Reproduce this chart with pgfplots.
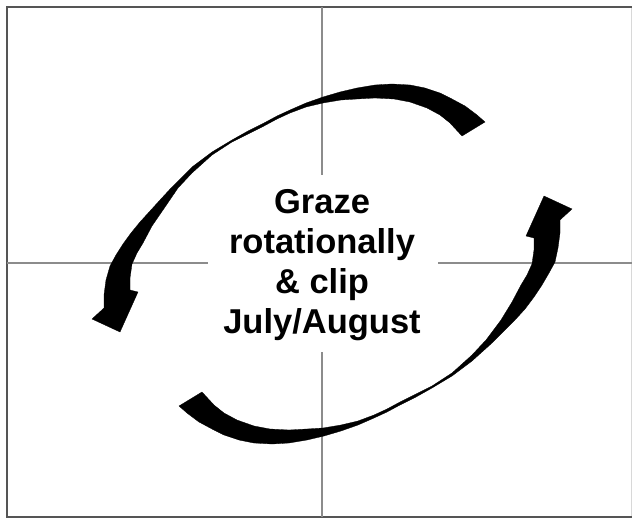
\documentclass[border=0pt]{standalone}
\usepackage{pgfplots}
\pgfplotsset{compat=1.18}
\usepackage{fontspec}
\setmainfont{Liberation Sans}
\definecolor{framegray}{HTML}{555555}
\definecolor{edgegray}{HTML}{D8D8D8}
\definecolor{crossgray}{HTML}{8C8C8C}
\begin{document}
\begin{tikzpicture}
  % picture laid out in pixel units (1px = 1pt), y runs downwards
  \begin{axis}[
    width=633pt, height=519pt,
    scale only axis,
    xmin=0, xmax=633,
    ymin=0, ymax=519,
    y dir=reverse,
    hide axis,
    clip=false,
  ]
    % keep the page the size of the picture
    \addplot[draw=none, mark=none] coordinates {(0,0) (633,519)};
    % frame (right edge is barely visible in the original)
    \addplot[edgegray, line width=1pt, mark=none] coordinates {(631.5,7) (631.5,517)};
    \addplot[framegray, line width=1.5pt, mark=none] coordinates {
      (631.5,7) (7,7) (7,517) (631.5,517)
    };
    % crosshair, broken round the text
    \addplot[crossgray, line width=1.3pt, mark=none] coordinates {(322,7) (322,175)};
    \addplot[crossgray, line width=1.3pt, mark=none] coordinates {(322,352) (322,517)};
    \addplot[crossgray, line width=1.3pt, mark=none] coordinates {(7,263) (208,263)};
    \addplot[crossgray, line width=1.3pt, mark=none] coordinates {(438,263) (631.5,263)};

    % upper arrow: blunt end top right, head bottom left
    \addplot[fill=black, draw=black, line width=0.3pt, mark=none] coordinates {
      (485,122) (477,115) (465,106) (452,99) (440,93) (425,88) (410,85)
      (392,84) (375,85) (357,88) (340,92) (323,97) (306,103) (290,110)
      (277,116) (264,123) (248,131) (232,140) (212,152) (192,167) (172,187)
      (160,200) (150,211) (140,222) (131,233) (123,244) (116,255) (110,266)
      (106,280) (104,295) (104,308)
      (92,319) (120,332) (138,292)
      (130,290) (130,278) (132,264) (137,253) (143,243) (152,226) (163,210)
      (178,188) (192,173) (212,155) (232,142) (248,134) (264,126) (277,119)
      (290,113) (306,107) (323,103) (341,100) (357,99) (375,98) (394,99)
      (410,102) (427,108) (440,115) (450,123) (462,136)
    } -- cycle;

    % lower arrow: blunt end bottom left, head top right
    \addplot[fill=black, draw=black, line width=0.3pt, mark=none] coordinates {
      (179,406) (187,413) (199,422) (212,429) (224,435) (239,440) (254,443)
      (272,444) (289,443) (307,440) (324,436) (341,431) (358,425) (374,418)
      (387,412) (400,405) (416,397) (432,388) (452,376) (472,361) (492,343)
      (504,331) (515,320) (525,309) (534,297) (542,285) (549,273) (555,262)
      (558,248) (560,233) (560,220)
      (572,209) (544,196) (526,236)
      (534,238) (534,250) (532,264) (527,275) (521,285) (512,302) (501,320)
      (486,340) (472,355) (452,373) (432,386) (416,394) (400,402) (387,409)
      (374,415) (358,421) (341,425) (323,428) (307,429) (289,430) (270,429)
      (254,426) (237,420) (224,413) (214,405) (202,392)
    } -- cycle;

    % text in the middle
    \node[anchor=base, font=\fontsize{34.5}{40}\selectfont\bfseries] at (axis cs:322,213) {Graze};
    \node[anchor=base, font=\fontsize{34.5}{40}\selectfont\bfseries] at (axis cs:322,253) {rotationally};
    \node[anchor=base, font=\fontsize{34.5}{40}\selectfont\bfseries] at (axis cs:322,293) {\& clip};
    \node[anchor=base, font=\fontsize{34.5}{40}\selectfont\bfseries] at (axis cs:322,333) {July/August};
  \end{axis}
\end{tikzpicture}
\end{document}
